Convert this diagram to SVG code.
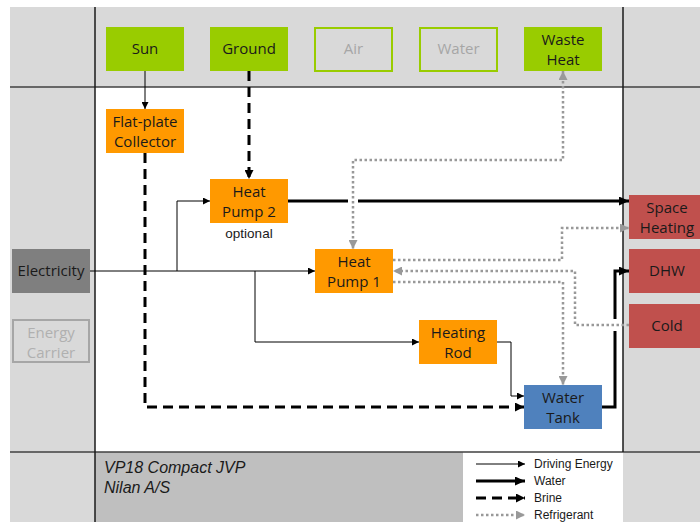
<svg xmlns="http://www.w3.org/2000/svg" width="700" height="522" viewBox="0 0 700 522">
<defs>
<style>
.box text{font-family:"Open Sans","Liberation Sans",sans-serif;font-size:15px;text-anchor:middle;fill:#1a1a1a}
.grn rect{fill:#99cc00}
.ogrn rect{fill:#d9d9d9;stroke:#99cc00;stroke-width:2}
.ogrn text{fill:#a6a6a6}
.org rect{fill:#ff9900}
.red rect{fill:#c0504d}
.blu rect{fill:#4f81bd}
.drv{fill:none;stroke:#000;stroke-width:1}
.wat{fill:none;stroke:#000;stroke-width:3}
.brn{fill:none;stroke:#000;stroke-width:3;stroke-dasharray:10 6}
.ref{fill:none;stroke:#999;stroke-width:2.5;stroke-dasharray:2.5 2.5}
.frame{stroke:#404040;stroke-width:1.5}
.arial{font-family:"Liberation Sans",Arial,sans-serif;fill:#1a1a1a}
</style>
<marker id="aD" markerUnits="userSpaceOnUse" markerWidth="7" markerHeight="7" refX="7" refY="3.5" orient="auto"><path d="M0,0 L7,3.5 L0,7 z" fill="#000"/></marker>
<marker id="aW" markerUnits="userSpaceOnUse" markerWidth="10" markerHeight="9" refX="10" refY="4.5" orient="auto"><path d="M0,0 L10,4.5 L0,9 z" fill="#000"/></marker>
<marker id="aB" markerUnits="userSpaceOnUse" markerWidth="9" markerHeight="9" refX="9" refY="4.5" orient="auto"><path d="M0,0 L9,4.5 L0,9 z" fill="#000"/></marker>
<marker id="aR" markerUnits="userSpaceOnUse" markerWidth="9" markerHeight="9" refX="9" refY="4.5" orient="auto-start-reverse"><path d="M0,0 L9,4.5 L0,9 z" fill="#999"/></marker>
</defs>

<g id="background">
<rect x="10" y="7" width="690" height="515" fill="#d9d9d9"/>
<rect x="95" y="87" width="528" height="365" fill="#ffffff"/>
<rect x="95" y="452" width="368" height="70" fill="#bfbfbf"/>
<rect x="463" y="452" width="160" height="70" fill="#ffffff"/>
<line class="frame" x1="10" y1="87" x2="700" y2="87"/>
<line class="frame" x1="10" y1="452" x2="700" y2="452"/>
<line x1="95" y1="7" x2="95" y2="522" stroke="#1a1a1a" stroke-width="1.5"/>
<line x1="623" y1="7" x2="623" y2="452" stroke="#1a1a1a" stroke-width="1.5"/>
</g>

<g id="connectors">
<path class="drv" d="M145,71 V109" marker-end="url(#aD)"/>
<path class="brn" d="M249,71 V179" marker-end="url(#aB)"/>
<path class="brn" d="M145,153 V407 H524" marker-end="url(#aB)"/>
<path class="drv" d="M90,271 H315" marker-end="url(#aD)"/>
<path class="drv" d="M177,271 V201 H210" marker-end="url(#aD)"/>
<path class="drv" d="M255,271 V342 H419" marker-end="url(#aD)"/>
<path class="drv" d="M497,342 H511 V396 H524" marker-end="url(#aD)"/>
<path class="wat" d="M288,201 H629" marker-end="url(#aW)"/>
<path class="wat" d="M602,407 H615 V271 H629" marker-end="url(#aW)"/>
<rect x="348" y="196" width="10" height="10" fill="#fff"/>
<rect x="610" y="319" width="10" height="12" fill="#fff"/>
<path class="ref" d="M563,71 V160 H353 V249" marker-start="url(#aR)" marker-end="url(#aR)"/>
<path class="ref" d="M393,260 H562 V228 H629" marker-end="url(#aR)"/>
<path class="ref" d="M629,325 H575 V271 H393" marker-end="url(#aR)"/>
<path class="ref" d="M393,282 H563 V385" marker-end="url(#aR)"/>
</g>

<g id="sun" class="box grn"><rect x="106" y="27" width="78" height="44"/><text x="145" y="54">Sun</text></g>
<g id="ground" class="box grn"><rect x="210" y="27" width="78" height="44"/><text x="249" y="54">Ground</text></g>
<g id="air" class="box ogrn"><rect x="315" y="28" width="77" height="43"/><text x="353.5" y="54">Air</text></g>
<g id="water" class="box ogrn"><rect x="420" y="28" width="77" height="43"/><text x="458.5" y="54">Water</text></g>
<g id="waste-heat" class="box grn"><rect x="524" y="27" width="78" height="44"/><text x="563" y="45">Waste</text><text x="563" y="65">Heat</text></g>
<g id="flat-plate-collector" class="box org"><rect x="106" y="109" width="78" height="44"/><text x="145" y="127">Flat-plate</text><text x="145" y="147">Collector</text></g>
<g id="heat-pump-2" class="box org"><rect x="210" y="179" width="78" height="44"/><text x="249" y="197">Heat</text><text x="249" y="217">Pump 2</text></g>
<g id="optional"><text class="arial" x="249" y="238" font-size="13.5" text-anchor="middle">optional</text></g>
<g id="heat-pump-1" class="box org"><rect x="315" y="249" width="78" height="44"/><text x="354" y="267">Heat</text><text x="354" y="287">Pump 1</text></g>
<g id="heating-rod" class="box org"><rect x="419" y="320" width="78" height="44"/><text x="458" y="338">Heating</text><text x="458" y="358">Rod</text></g>
<g id="water-tank" class="box blu"><rect x="524" y="385" width="78" height="44"/><text x="563" y="403">Water</text><text x="563" y="423">Tank</text></g>
<g id="electricity" class="box"><rect x="12" y="249" width="78" height="44" fill="#7f7f7f"/><text x="51" y="276">Electricity</text></g>
<g id="energy-carrier" class="box"><rect x="13" y="320" width="76" height="42" fill="#d9d9d9" stroke="#a6a6a6" stroke-width="2"/><text x="51" y="338" style="fill:#b0b0b0">Energy</text><text x="51" y="358" style="fill:#b0b0b0">Carrier</text></g>
<g id="space-heating" class="box red"><rect x="629" y="195" width="78" height="44"/><text x="667" y="213">Space</text><text x="667" y="233">Heating</text></g>
<g id="dhw" class="box red"><rect x="629" y="249" width="78" height="44"/><text x="667" y="276">DHW</text></g>
<g id="cold" class="box red"><rect x="629" y="304" width="78" height="44"/><text x="667" y="331">Cold</text></g>

<g id="caption" class="arial" font-size="16" font-style="italic">
<text x="104" y="473">VP18 Compact JVP</text>
<text x="104" y="493">Nilan A/S</text>
</g>

<g id="legend">
<path class="drv" d="M476,464 H525" marker-end="url(#aD)"/>
<path class="wat" d="M476,481 H525" marker-end="url(#aW)"/>
<path class="brn" d="M476,498 H525" marker-end="url(#aB)"/>
<path class="ref" d="M476,515 H525" marker-end="url(#aR)"/>
<g class="arial" font-size="12">
<text x="534" y="468">Driving Energy</text>
<text x="534" y="485">Water</text>
<text x="534" y="502">Brine</text>
<text x="534" y="519">Refrigerant</text>
</g>
</g>
</svg>
